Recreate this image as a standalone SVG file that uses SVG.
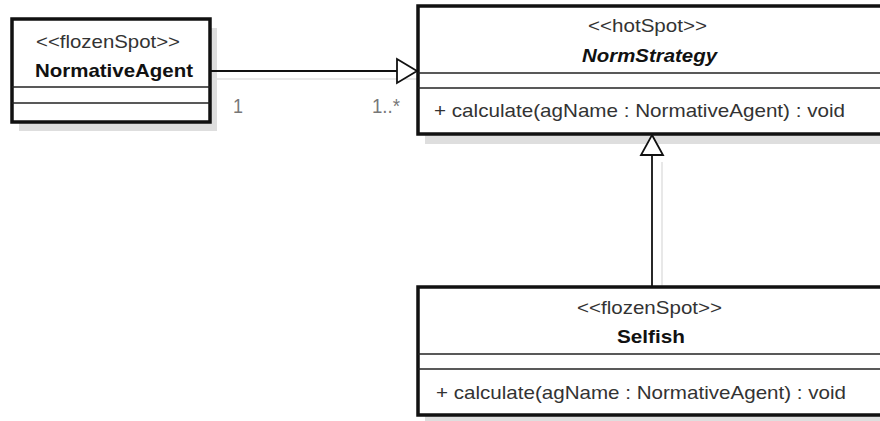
<svg xmlns="http://www.w3.org/2000/svg" width="880" height="421" viewBox="0 0 880 421">
<style>
.shadow{fill:#dedede;stroke:none}
.sline{stroke:#e0e0e0;stroke-width:1.5;fill:none}
.box{fill:#fff;stroke:#111;stroke-width:3.5}
.div{stroke:#222;stroke-width:1.5}
.st{font-family:"Liberation Sans",Arial,sans-serif;font-size:19px;fill:#333}
.nm{font-family:"Liberation Sans",Arial,sans-serif;font-size:19px;font-weight:bold;fill:#111}
.it{font-style:italic}
.op{font-family:"Liberation Sans",Arial,sans-serif;font-size:19px;fill:#333}
.mult{font-family:"Liberation Sans",Arial,sans-serif;font-size:20px;fill:#777}
.conn{stroke:#111;stroke-width:1.8;fill:none}
.head{fill:#fff;stroke:#111;stroke-width:1.8}
</style>
<rect width="880" height="421" fill="#fff"/>
<g id="shadows">
<rect class="shadow" x="19" y="28" width="198" height="103"/>
<rect class="shadow" x="425" y="15" width="470" height="129"/>
<rect class="shadow" x="425" y="296" width="470" height="128"/>
<line class="sline" x1="213" y1="79" x2="421" y2="79"/>
<line class="sline" x1="662" y1="162" x2="662" y2="289"/>
</g>
<g id="connectors">
<line class="conn" x1="211" y1="71" x2="397" y2="71"/>
<polygon class="head" points="397,59 417,71 397,83"/>
<line class="conn" x1="652" y1="155" x2="652" y2="287"/>
<polygon class="head" points="652,135 663,155 641,155"/>
<text class="mult" x="233" y="113" textLength="10" lengthAdjust="spacingAndGlyphs">1</text>
<text class="mult" x="372" y="113" textLength="28" lengthAdjust="spacingAndGlyphs">1..*</text>
</g>
<g id="NormativeAgent">
<rect class="box" x="12" y="19" width="198" height="103"/>
<line class="div" x1="12" y1="87" x2="210" y2="87"/>
<line class="div" x1="12" y1="103" x2="210" y2="103"/>
<text class="st" x="36" y="48" textLength="144" lengthAdjust="spacingAndGlyphs">&lt;&lt;flozenSpot&gt;&gt;</text>
<text class="nm" x="35" y="77" textLength="158" lengthAdjust="spacingAndGlyphs">NormativeAgent</text>
</g>
<g id="NormStrategy">
<rect class="box" x="418" y="6" width="470" height="128"/>
<line class="div" x1="418" y1="73" x2="888" y2="73"/>
<line class="div" x1="418" y1="88" x2="888" y2="88"/>
<text class="st" x="588" y="32" textLength="119" lengthAdjust="spacingAndGlyphs">&lt;&lt;hotSpot&gt;&gt;</text>
<text class="nm it" x="582" y="62" textLength="135" lengthAdjust="spacingAndGlyphs">NormStrategy</text>
<text class="op" x="434" y="117" textLength="411" lengthAdjust="spacingAndGlyphs">+ calculate(agName : NormativeAgent) : void</text>
</g>
<g id="Selfish">
<rect class="box" x="418" y="287" width="470" height="128"/>
<line class="div" x1="418" y1="354" x2="888" y2="354"/>
<line class="div" x1="418" y1="369" x2="888" y2="369"/>
<text class="st" x="577" y="314" textLength="145" lengthAdjust="spacingAndGlyphs">&lt;&lt;flozenSpot&gt;&gt;</text>
<text class="nm" x="617" y="343" textLength="68" lengthAdjust="spacingAndGlyphs">Selfish</text>
<text class="op" x="436" y="399" textLength="410" lengthAdjust="spacingAndGlyphs">+ calculate(agName : NormativeAgent) : void</text>
</g>
</svg>
